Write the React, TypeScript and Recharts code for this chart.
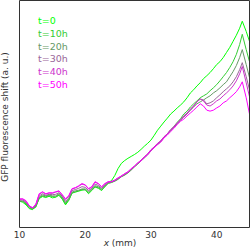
import React from 'react';
import { LineChart, Line, XAxis, YAxis, Legend } from 'recharts';

const xs = [10, 10.5, 11, 11.5, 12, 12.5, 13, 13.5, 14, 14.5, 15, 15.5, 16, 16.5, 17, 17.5, 18, 18.5, 19, 19.5, 20, 20.5, 21, 21.5, 22, 22.5, 23, 23.5, 24,
  24.5, 25, 25.5, 26, 26.5, 27, 27.5, 28, 28.5, 29, 29.5, 30, 30.5, 31, 31.5, 32, 32.5, 33, 33.5, 34, 34.5,
  35, 35.5, 36, 36.5, 37, 37.5, 38, 38.5, 39, 39.5, 40, 40.5, 41, 41.5, 42, 42.5, 43, 43.5, 43.9, 44.5, 45];

const t0 = [1.02, 0.98, 0.90, 0.78, 0.75, 0.86, 1.10, 1.16, 1.13, 1.17, 1.12, 1.14, 1.20, 1.08, 0.90, 1.04, 1.27, 1.30, 1.33, 1.36, 1.38, 1.25, 1.35, 1.46, 1.42, 1.35, 1.48, 1.60, 1.66,
  1.82, 2.04, 2.20, 2.29, 2.36, 2.42, 2.48, 2.55, 2.64, 2.74, 2.83, 2.93, 3.08, 3.24, 3.37, 3.50, 3.62, 3.75, 3.84, 3.94, 4.03,
  4.13, 4.26, 4.41, 4.51, 4.63, 4.73, 4.86, 4.95, 5.05, 5.17, 5.30, 5.39, 5.52, 5.68, 5.84, 6.03, 6.22, 6.44, 6.66, 6.34, 6.03];
const t10 = [1.00, 1.01, 0.93, 0.80, 0.77, 0.83, 1.12, 1.18, 1.15, 1.19, 1.16, 1.15, 1.22, 1.11, 0.93, 1.06, 1.28, 1.31, 1.34, 1.38, 1.37, 1.28, 1.37, 1.47, 1.44, 1.37, 1.47, 1.57, 1.60,
  1.65, 1.71, 1.80, 1.84, 1.92, 2.00, 2.11, 2.19, 2.30, 2.38, 2.49, 2.60, 2.72, 2.80, 2.90, 3.03, 3.13, 3.25, 3.36, 3.49, 3.60,
  3.75, 3.84, 3.97, 4.07, 4.16, 4.26, 4.32, 4.38, 4.48, 4.57, 4.67, 4.79, 4.92, 5.05, 5.21, 5.39, 5.62, 5.93, 6.25, 5.77, 5.39];
const t20 = [1.03, 1.02, 0.96, 0.84, 0.79, 0.87, 1.14, 1.21, 1.18, 1.21, 1.18, 1.18, 1.25, 1.15, 0.97, 1.09, 1.30, 1.34, 1.36, 1.40, 1.40, 1.31, 1.40, 1.50, 1.47, 1.40, 1.50, 1.59, 1.61,
  1.64, 1.70, 1.78, 1.83, 1.90, 1.99, 2.09, 2.18, 2.28, 2.37, 2.47, 2.59, 2.70, 2.79, 2.88, 3.01, 3.11, 3.22, 3.33, 3.45, 3.56,
  3.69, 3.78, 3.87, 3.97, 4.07, 4.13, 4.19, 4.26, 4.32, 4.41, 4.48, 4.57, 4.67, 4.76, 4.92, 5.08, 5.27, 5.52, 5.77, 5.30, 4.89];
const t30 = [1.05, 1.05, 0.98, 0.84, 0.80, 0.89, 1.18, 1.25, 1.20, 1.23, 1.22, 1.23, 1.28, 1.17, 1.01, 1.12, 1.35, 1.38, 1.42, 1.47, 1.45, 1.35, 1.42, 1.55, 1.51, 1.42, 1.52, 1.60, 1.62,
  1.67, 1.73, 1.79, 1.86, 1.92, 2.02, 2.10, 2.21, 2.29, 2.40, 2.48, 2.62, 2.71, 2.82, 2.90, 3.03, 3.12, 3.25, 3.34, 3.47, 3.56,
  3.65, 3.75, 3.87, 4.00, 4.13, 4.22, 4.19, 4.07, 4.10, 4.16, 4.26, 4.35, 4.45, 4.54, 4.63, 4.76, 4.92, 5.14, 5.36, 4.92, 4.51];
const t40 = [1.07, 1.08, 1.01, 0.86, 0.80, 0.92, 1.23, 1.30, 1.24, 1.27, 1.26, 1.30, 1.33, 1.21, 1.07, 1.17, 1.40, 1.43, 1.48, 1.55, 1.52, 1.40, 1.46, 1.61, 1.56, 1.46, 1.56, 1.62, 1.63,
  1.68, 1.74, 1.81, 1.87, 1.94, 2.03, 2.12, 2.22, 2.30, 2.41, 2.50, 2.63, 2.72, 2.83, 2.91, 3.04, 3.13, 3.26, 3.35, 3.47, 3.57,
  3.69, 3.78, 3.91, 4.00, 4.13, 4.22, 4.16, 4.03, 4.00, 4.07, 4.16, 4.22, 4.32, 4.41, 4.51, 4.63, 4.79, 5.01, 5.24, 4.73, 4.29];
const t50 = [1.09, 1.09, 1.03, 0.87, 0.81, 0.93, 1.25, 1.31, 1.25, 1.28, 1.28, 1.31, 1.34, 1.22, 1.09, 1.19, 1.41, 1.44, 1.50, 1.57, 1.53, 1.41, 1.47, 1.63, 1.57, 1.47, 1.57, 1.63, 1.63,
  1.67, 1.75, 1.80, 1.88, 1.93, 2.04, 2.11, 2.21, 2.28, 2.39, 2.47, 2.60, 2.69, 2.79, 2.87, 3.00, 3.09, 3.20, 3.30, 3.42, 3.52,
  3.59, 3.69, 3.78, 3.87, 3.97, 4.07, 4.00, 3.87, 3.84, 3.87, 3.94, 4.00, 4.10, 4.16, 4.26, 4.35, 4.45, 4.60, 4.76, 4.26, 3.75];

const seriesNames = ['t=0', 't=10h', 't=20h', 't=30h', 't=40h', 't=50h'];
const seriesKeys = ['t0', 't10', 't20', 't30', 't40', 't50'];
const seriesColors = ['#00ff00', '#33cc33', '#669966', '#996699', '#cc33cc', '#ff00ff'];
const xTicks = [10, 15, 20, 25, 30, 35, 40, 45];
const xLabelTicks = [10, 20, 30, 40];
const yTicks = [1, 2, 3, 4, 5, 6, 7];

const allSeries = [t0, t10, t20, t30, t40, t50];
const data = xs.map((x, i) => {
  const row: Record<string, number> = { x };
  seriesKeys.forEach((k, j) => { row[k] = allSeries[j][i]; });
  return row;
});

const FONT = 'DejaVu Sans';
const AXIS = '#333333';
const Y_DOMAIN: [number, number] = [0.19, 7.31];

const LegendContent = () => (
  <div style={{ fontFamily: FONT, fontSize: 9.5, lineHeight: '12.8px' }}>
    {seriesNames.map((n, i) => (
      <div key={n} style={{ color: seriesColors[i], whiteSpace: 'nowrap' }}>{n}</div>
    ))}
  </div>
);

const YLabel = () => (
  <text x={5} y={117} transform="rotate(-90 5 117)" textAnchor="middle" dominantBaseline="central"
    fontFamily={FONT} fontSize={9} fill="#333">GFP fluorescence shift (a. u.)</text>
);
const XLabel = () => (
  <text x={120} y={242.5} textAnchor="middle" dominantBaseline="central" fontFamily={FONT} fontSize={9} fill="#333">
    <tspan fontStyle="italic">x</tspan> (mm)
  </text>
);

export default function App() {
  return (
    <div style={{ position: 'absolute', left: 0, top: 0, width: 250, height: 247, background: '#fff' }}>
      <LineChart width={250} height={247} data={data} margin={{ top: 0.5, right: 0.5, left: 19.5, bottom: 0 }}>
        <XAxis xAxisId="bt" dataKey="x" type="number" domain={[10, 45]} ticks={xTicks} interval={0}
          mirror tick={false} tickSize={3.5} height={1} stroke={AXIS} allowDataOverflow />
        <XAxis xAxisId="b" dataKey="x" type="number" domain={[10, 45]} ticks={xLabelTicks} interval={0}
          axisLine={false} tickLine={false} tickSize={0} tickMargin={4} height={19.5}
          tick={{ fontFamily: FONT, fontSize: 9, fill: '#333' }} allowDataOverflow
          label={<XLabel />} />
        <XAxis xAxisId="t" orientation="top" dataKey="x" type="number" domain={[10, 45]} ticks={xTicks} interval={0}
          mirror tick={false} tickSize={3.5} height={1} stroke={AXIS} allowDataOverflow />
        <YAxis yAxisId="l" type="number" domain={Y_DOMAIN} ticks={yTicks} interval={0}
          mirror tick={false} tickSize={3.5} width={1} stroke={AXIS} allowDataOverflow label={<YLabel />} />
        <YAxis yAxisId="r" orientation="right" type="number" domain={Y_DOMAIN} ticks={yTicks} interval={0}
          mirror tick={false} tickSize={3.5} width={1} stroke={AXIS} allowDataOverflow />
        <Legend layout="horizontal" align="center" verticalAlign="middle"
          wrapperStyle={{ left: 38, top: 15, width: 60, height: 80 }} content={<LegendContent />} />
        {seriesKeys.map((k, i) => (
          <Line key={k} xAxisId="b" yAxisId="l" dataKey={k} type="linear" stroke={seriesColors[i]}
            strokeWidth={1} dot={false} activeDot={false} isAnimationActive={false} />
        ))}
      </LineChart>
    </div>
  );
}
